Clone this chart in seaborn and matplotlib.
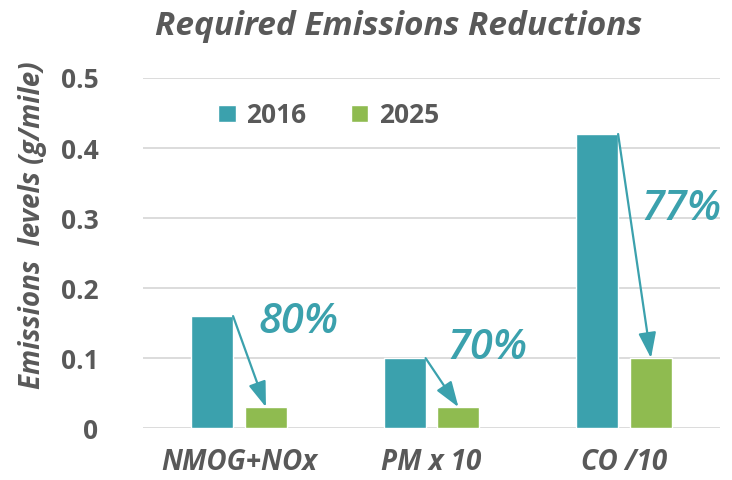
import pandas as pd
import matplotlib.pyplot as plt
import seaborn as sns

categories = ["NMOG+NOx", "PM x 10", "CO /10"]
years = ["2016", "2025"]
values_2016 = [0.16, 0.10, 0.42]
values_2025 = [0.03, 0.03, 0.10]
reductions = ["80%", "70%", "77%"]
y_ticks = [0, 0.1, 0.2, 0.3, 0.4, 0.5]
y_tick_labels = ["0", "0.1", "0.2", "0.3", "0.4", "0.5"]

TEAL = "#3BA1AD"
GREEN = "#8FBB50"
GREY = "#595959"

sns.set_theme(style="whitegrid")
plt.rcParams["font.family"] = ["Open Sans", "DejaVu Sans"]

df = pd.DataFrame({
    "category": categories * 2,
    "year": [years[0]] * 3 + [years[1]] * 3,
    "value": values_2016 + values_2025,
})

fig = plt.figure(figsize=(7.32, 4.8), dpi=100)
ax = fig.add_axes([0.195, 0.108, 0.789, 0.7295])

sns.barplot(data=df, x="category", y="value", hue="year",
            palette=[TEAL, GREEN], width=0.56, gap=0.22,
            saturation=1, ax=ax)

ax.set_ylim(0, 0.5)
ax.set_xlim(-0.5, 2.5)
ax.set_yticks(y_ticks)
ax.set_yticklabels(y_tick_labels)
ax.grid(axis="y", color="#D9D9D9", lw=1.3)
ax.grid(axis="x", visible=False)
for s in ax.spines.values():
    s.set_visible(False)
ax.tick_params(axis="y", length=0, pad=32)
ax.tick_params(axis="x", length=0, pad=14)
for lab in ax.get_yticklabels():
    lab.set_fontsize(19)
    lab.set_fontweight("bold")
    lab.set_color(GREY)
for lab in ax.get_xticklabels():
    lab.set_fontsize(20)
    lab.set_fontweight("bold")
    lab.set_fontstyle("italic")
    lab.set_color(GREY)

ax.set_xlabel("")
ax.set_ylabel("Emissions  levels (g/mile)", fontsize=20, fontweight="bold",
              fontstyle="italic", color=GREY)
ax.yaxis.set_label_coords(-0.165, 0.58)

fig.suptitle("Required Emissions Reductions", x=0.544, y=0.98,
             fontsize=24, fontweight="bold", fontstyle="italic", color=GREY)

leg = ax.legend(loc="upper left", bbox_to_anchor=(0.09, 1.0), ncol=2,
                frameon=False, handlelength=0.65, handleheight=0.65,
                columnspacing=1.7, handletextpad=0.4,
                prop={"size": 19, "weight": "bold"})
for t in leg.get_texts():
    t.set_color(GREY)

# arrows from 2016 bar top-right to 2025 bar top-centre
bars_2016 = ax.containers[0]
bars_2025 = ax.containers[1]
for b1, b2 in zip(bars_2016, bars_2025):
    x0 = b1.get_x() + b1.get_width()
    y0 = b1.get_height()
    x1 = b2.get_x() + b2.get_width() / 2
    y1 = b2.get_height()
    ax.annotate("", xy=(x1, y1), xytext=(x0, y0),
                arrowprops=dict(arrowstyle="-|>,head_length=1.3,head_width=0.45",
                                color=TEAL, lw=1.6, shrinkA=0, shrinkB=0))

label_pos = [(0.31, 0.151), (1.29, 0.114), (2.3, 0.313)]
for (x, y), txt in zip(label_pos, reductions):
    ax.text(x, y, txt, fontsize=30, fontweight="semibold", fontstyle="italic",
            color=TEAL, ha="center", va="center")

plt.savefig("out.png", dpi=100)
plt.close()
